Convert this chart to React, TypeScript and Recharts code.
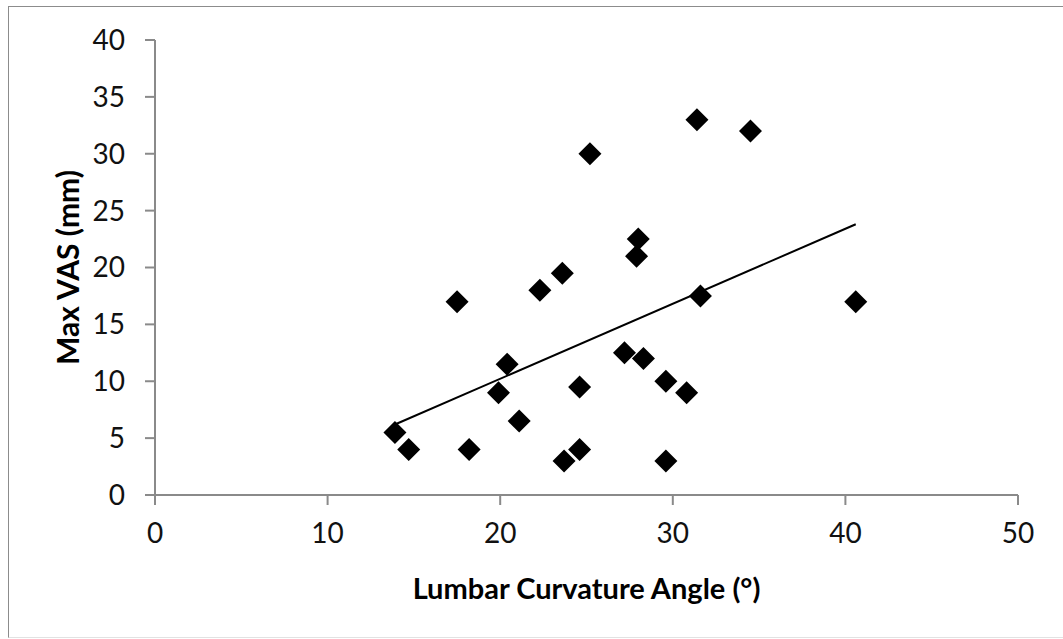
import { ScatterChart, Scatter, XAxis, YAxis, Label } from 'recharts';

// Lumbar curvature angle (deg) vs max VAS (mm)
const angles = [13.9, 14.7, 17.5, 18.2, 19.9, 20.4, 21.1, 22.3, 23.6, 23.7, 24.6, 24.6, 25.2, 27.2, 27.9, 28.0, 28.3, 29.6, 29.6, 30.8, 31.4, 31.6, 34.5, 40.6];
const vas = [5.5, 4.0, 17.0, 4.0, 9.0, 11.5, 6.5, 18.0, 19.5, 3.0, 4.0, 9.5, 30.0, 12.5, 21.0, 22.5, 12.0, 10.0, 3.0, 9.0, 33.0, 17.5, 32.0, 17.0];

// linear trend line end points, as drawn
const trendX = [13.9, 40.6];
const trendY = [6.2, 23.8];

const xTicks = [0, 10, 20, 30, 40, 50];
const yTicks = [0, 5, 10, 15, 20, 25, 30, 35, 40];

const points = angles.map((a, i) => ({ x: a, y: vas[i] }));
const trend = trendX.map((a, i) => ({ x: a, y: trendY[i] }));

const FONT = 'Lato, "Open Sans", sans-serif';
const AXIS_GREY = '#8a8a8a';

const Diamond = (props: any) => {
  const { cx, cy } = props;
  const r = 11.5;
  return <path d={`M${cx},${cy - r}L${cx + r},${cy}L${cx},${cy + r}L${cx - r},${cy}Z`} fill="#000" />;
};

const YTitle = ({ viewBox }: any) => {
  const cx = viewBox.x - 8;
  const cy = viewBox.y + viewBox.height / 2;
  return (
    <text x={cx} y={cy} transform={`rotate(-90 ${cx} ${cy})`} textAnchor="middle" dominantBaseline="central"
      fontFamily={FONT} fontWeight="bold" fontSize={30} fill="#000">
      Max VAS (mm)
    </text>
  );
};

const XTitle = ({ viewBox }: any) => {
  const cx = viewBox.x + viewBox.width / 2;
  const cy = viewBox.y + 92;
  return (
    <text x={cx} y={cy} textAnchor="middle" dominantBaseline="central"
      fontFamily={FONT} fontWeight="bold" fontSize={29} fill="#000">
      Lumbar Curvature Angle (°)
    </text>
  );
};

export default function App() {
  return (
    <div style={{ position: 'absolute', left: 0, top: 0, width: 1063, height: 639, background: '#fff', overflow: 'hidden' }}>
      <div style={{
        position: 'absolute', left: 8, top: 6, width: 1070, height: 630,
        borderLeft: '1px solid #8c8c8c', borderTop: '1px solid #8c8c8c', borderBottom: '1px solid #e2e2e2',
      }} />
      <ScatterChart width={1063} height={639} margin={{ top: 40, right: 45, bottom: 84, left: 75 }} style={{ position: 'absolute', left: 0, top: 0 }}>
        <XAxis
          type="number"
          dataKey="x"
          domain={[0, 50]}
          ticks={xTicks}
          height={60}
          stroke={AXIS_GREY}
          strokeWidth={2}
          tickSize={10}
          tickMargin={18}
          tick={{ fill: '#111', fontSize: 28, fontFamily: FONT }}
        >
          <Label content={<XTitle />} />
        </XAxis>
        <YAxis
          type="number"
          dataKey="y"
          domain={[0, 40]}
          ticks={yTicks}
          width={80}
          stroke={AXIS_GREY}
          strokeWidth={2}
          tickSize={10}
          tickMargin={20}
          tick={{ fill: '#111', fontSize: 28, fontFamily: FONT }}
        >
          <Label content={<YTitle />} />
        </YAxis>
        <Scatter data={trend} line={{ stroke: '#000', strokeWidth: 2 }} shape={() => <g />} isAnimationActive={false} />
        <Scatter data={points} shape={<Diamond />} isAnimationActive={false} />
      </ScatterChart>
    </div>
  );
}
